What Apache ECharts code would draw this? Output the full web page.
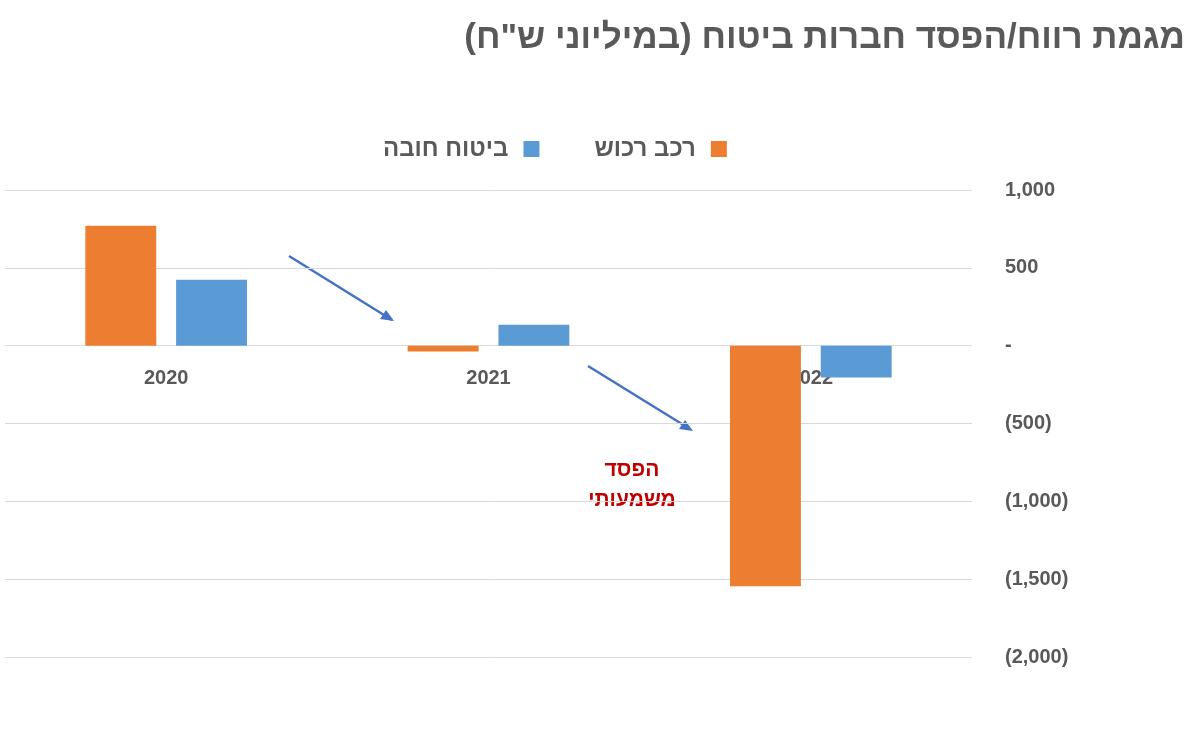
<!DOCTYPE html>
<html>
<head>
<meta charset="utf-8">
<script src="https://cdn.jsdelivr.net/npm/echarts@6/dist/echarts.min.js"></script>
<style>
  html, body { margin: 0; padding: 0; background: #fff; }
  #chart { width: 1200px; height: 740px; }
</style>
</head>
<body>
<div id="chart"></div>
<script>
// chart data
const years = ['2020', '2021', '2022'];
const propertyCar = [770, -38, -1545];   // רכב רכוש
const compulsory = [423, 135, -205];     // ביטוח חובה

var myChart = echarts.init(document.getElementById('chart'));
const grey = '#595959';
const font = 'Arial, "Liberation Sans", sans-serif';

function fmt(v) {
  if (v === 0) return '-';
  var s = Math.abs(v).toLocaleString('en-US');
  return v < 0 ? '(' + s + ')' : s;
}

var option = {
  title: {
    text: 'מגמת רווח/הפסד חברות ביטוח (במיליוני ש"ח)',
    right: 10, top: 16,
    textStyle: { fontSize: 35, fontWeight: 'bold', color: grey, fontFamily: font }
  },
  legend: {
    top: 132, left: 378, align: 'right',
    itemWidth: 16, itemHeight: 16, itemGap: 55,
    icon: 'rect',
    data: ['ביטוח חובה', 'רכב רכוש'],
    textStyle: { fontSize: 24, fontWeight: 'bold', color: grey, fontFamily: font, padding: [0, 10, 0, 0] }
  },
  grid: { left: 5, right: 228, top: 190, bottom: 83 },
  xAxis: {
    type: 'category',
    data: years,
    offset: -311,
    axisLine: { show: false },
    axisTick: { show: false },
    axisLabel: { fontSize: 20, fontWeight: 'bold', color: grey, margin: 22, fontFamily: font }
  },
  yAxis: {
    type: 'value',
    position: 'right',
    min: -2000, max: 1000, interval: 500,
    axisLine: { show: false },
    axisTick: { show: false },
    splitLine: { lineStyle: { color: '#d9d9d9' } },
    axisLabel: {
      formatter: fmt, align: 'left', margin: 33,
      fontSize: 20, fontWeight: 'bold', color: grey, fontFamily: font
    }
  },
  series: [
    {
      name: 'רכב רכוש', type: 'bar', data: propertyCar,
      barWidth: '22%', barGap: '28%',
      itemStyle: { color: '#ed7d31' }
    },
    {
      name: 'ביטוח חובה', type: 'bar', data: compulsory,
      barWidth: '22%',
      itemStyle: { color: '#5b9bd5' }
    }
  ],
  graphic: [
    {
      type: 'line', shape: { x1: 289, y1: 256, x2: 392, y2: 320 },
      style: { stroke: '#4472c4', lineWidth: 2.5 }
    },
    {
      type: 'polygon', shape: { points: [[394, 321], [380, 319], [386, 310]] },
      style: { fill: '#4472c4' }
    },
    {
      type: 'line', shape: { x1: 588, y1: 366, x2: 690, y2: 429 },
      style: { stroke: '#4472c4', lineWidth: 2.5 }
    },
    {
      type: 'polygon', shape: { points: [[693, 431], [679, 429], [685, 420]] },
      style: { fill: '#4472c4' }
    },
    {
      type: 'text', x: 632, y: 485,
      style: {
        text: 'הפסד\nמשמעותי', textAlign: 'center', textVerticalAlign: 'middle',
        fill: '#c00000', fontSize: 21, fontWeight: 'bold', lineHeight: 30, fontFamily: font
      }
    }
  ]
};

myChart.setOption(option);
</script>
</body>
</html>
